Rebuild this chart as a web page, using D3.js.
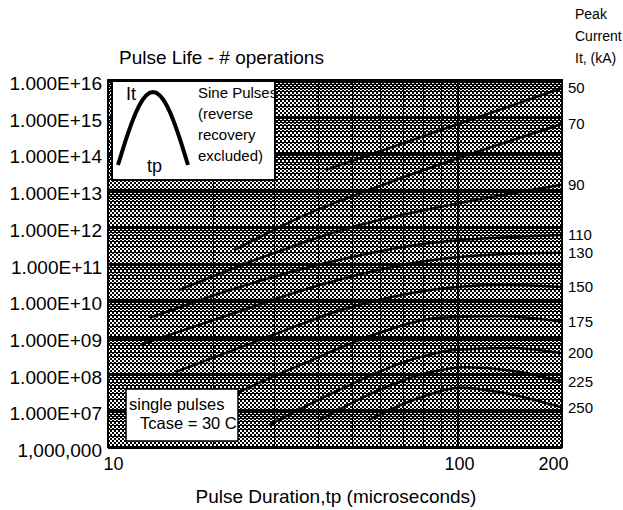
<!DOCTYPE html>
<html>
<head>
<meta charset="utf-8">
<script src="https://cdn.jsdelivr.net/npm/d3@7"></script>
<style>
  body { margin: 0; background: #fff; }
  svg { display: block; font-family: "Liberation Sans", Arial, sans-serif; }
</style>
</head>
<body>
<svg width="623" height="510"></svg>
<script>
// x: pulse duration (microseconds), y: number of operations
const tpTicks = [10, 100, 200];
const tpTickShift = [5, 2, -9];
const tpGrid = [20, 30, 40, 50, 60, 70, 80, 90, 100];
const lifeTicks = [1e16, 1e15, 1e14, 1e13, 1e12, 1e11, 1e10, 1e9, 1e8, 1e7, 1e6];
const lifeLabels = ["1.000E+16", "1.000E+15", "1.000E+14", "1.000E+13", "1.000E+12",
  "1.000E+11", "1.000E+10", "1.000E+09", "1.000E+08", "1.000E+07", "1,000,000"];

// peak current (kA) of each curve
const currents = [50, 70, 90, 110, 130, 150, 175, 200, 225, 250];

const tp50 = [42, 200];
const life50 = [3.5e13, 6e15];
const tp70 = [23, 35, 69, 200];
const life70 = [2.3e11, 1.7e12, 2.1e13, 6.3e14];
const tp90 = [16, 25.5, 49, 95, 200];
const life90 = [1.9e10, 1.1e11, 9.3e11, 3.9e12, 1.4e13];
const tp110 = [13.2, 22.4, 43.3, 84, 200];
const life110 = [3.3e9, 1.9e10, 1.1e11, 3.6e11, 6e11];
const tp130 = [12.4, 20.9, 40.5, 78, 133, 200];
const life130 = [6.1e8, 3.3e9, 2.6e10, 1.1e11, 1.8e11, 1.95e11];
const tp150 = [15.6, 27.3, 49, 84, 133, 200];
const life150 = [1.1e8, 8.3e8, 6.2e9, 1.9e10, 2.6e10, 2.3e10];
const tp175 = [21, 35.5, 60, 89, 133, 200];
const life175 = [1.9e7, 1.7e8, 1.3e9, 3.3e9, 3.7e9, 2.6e9];
const tp200 = [29, 46, 73, 98.6, 142, 200];
const life200 = [4e6, 3.6e7, 2.3e8, 4.4e8, 5e8, 3.6e8];
const tp225 = [40.5, 60, 84, 105, 152, 200];
const life225 = [5.5e6, 3.6e7, 1.1e8, 1.5e8, 1.1e8, 5.9e7];
const tp250 = [56, 78, 102, 133, 200];
const life250 = [5.5e6, 2.2e7, 4.1e7, 3.1e7, 1.2e7];

const tps = [tp50, tp70, tp90, tp110, tp130, tp150, tp175, tp200, tp225, tp250];
const lifes = [life50, life70, life90, life110, life130, life150, life175, life200, life225, life250];

let svg = d3.select("svg");
const plot = {left: 108, right: 562, top: 80, bottom: 447};

let x = d3.scaleLog().domain([10, 200]).range([plot.left, plot.right]);
let y = d3.scaleLog().domain([1e6, 1e16]).range([plot.bottom, plot.top]);

// dithered grey like the scanned original
let defs = svg.append("defs");
let pat = defs.append("pattern")
    .attr("id", "dither")
    .attr("patternUnits", "userSpaceOnUse")
    .attr("width", 4)
    .attr("height", 4);
pat.append("rect").attr("width", 4).attr("height", 4).attr("fill", "#fff");
pat.append("rect").attr("width", 2).attr("height", 2).attr("fill", "#000");
pat.append("rect").attr("x", 2).attr("y", 2).attr("width", 2).attr("height", 2).attr("fill", "#000");

svg.append("rect")
    .attr("x", plot.left)
    .attr("y", plot.top)
    .attr("width", plot.right - plot.left)
    .attr("height", plot.bottom - plot.top)
    .attr("fill", "url(#dither)");

// horizontal log grid
let minor = [];
d3.range(6, 16).forEach(k => {
  d3.range(2, 10).forEach(m => minor.push(m * Math.pow(10, k)));
});

let grid = svg.append("g").attr("shape-rendering", "crispEdges");
grid.selectAll(".hminor")
  .data(minor)
  .enter().append("line")
    .attr("x1", plot.left)
    .attr("x2", plot.right)
    .attr("y1", d => Math.round(y(d)) + 0.5)
    .attr("y2", d => Math.round(y(d)) + 0.5)
    .attr("stroke", "#000")
    .attr("stroke-width", 1);

grid.selectAll(".hmajor")
  .data(lifeTicks)
  .enter().append("line")
    .attr("x1", plot.left)
    .attr("x2", plot.right)
    .attr("y1", d => Math.round(y(d)))
    .attr("y2", d => Math.round(y(d)))
    .attr("stroke", "#000")
    .attr("stroke-width", 3);

grid.selectAll(".vgrid")
  .data(tpGrid)
  .enter().append("line")
    .attr("x1", d => Math.round(x(d)) + 0.5)
    .attr("x2", d => Math.round(x(d)) + 0.5)
    .attr("y1", plot.top)
    .attr("y2", plot.bottom)
    .attr("stroke", "#000")
    .attr("stroke-width", d => d === 100 ? 2 : 1.5);

// life curves
let line = d3.line()
    .x(d => x(d[0]))
    .y(d => y(d[1]))
    .curve(d3.curveMonotoneX);

let series = currents.map((c, i) => ({
  current: c,
  points: tps[i].map((t, j) => [t, lifes[i][j]])
}));

svg.append("g")
  .selectAll("path")
  .data(series)
  .enter().append("path")
    .attr("d", d => line(d.points))
    .attr("fill", "none")
    .attr("stroke", "#000")
    .attr("stroke-width", 2.5);

// plot frame
svg.append("rect")
    .attr("x", plot.left)
    .attr("y", plot.top)
    .attr("width", plot.right - plot.left)
    .attr("height", plot.bottom - plot.top)
    .attr("fill", "none")
    .attr("stroke", "#000")
    .attr("stroke-width", 2);

// axes
let yAxis = svg.append("g")
    .attr("transform", `translate(${plot.left},0)`)
    .call(d3.axisLeft(y).tickValues(lifeTicks).tickFormat((d, i) => lifeLabels[i]).tickSize(0).tickPadding(6));
yAxis.select(".domain").remove();
yAxis.selectAll("text")
    .attr("font-family", "Liberation Sans, Arial, sans-serif")
    .attr("font-size", 19)
    .attr("fill", "#000")
    .attr("dy", "0.5em");

let xAxis = svg.append("g")
    .attr("transform", `translate(0,${plot.bottom})`)
    .call(d3.axisBottom(x).tickValues(tpTicks).tickFormat(d3.format("d")).tickSize(0).tickPadding(10));
xAxis.select(".domain").remove();
xAxis.selectAll("text")
    .attr("font-family", "Liberation Sans, Arial, sans-serif")
    .attr("font-size", 18)
    .attr("fill", "#000")
    .attr("dx", (d, i) => tpTickShift[i]);

// current labels at the curve ends
svg.append("g")
  .selectAll("text")
  .data(series)
  .enter().append("text")
    .attr("x", plot.right + 6)
    .attr("y", d => y(d.points[d.points.length - 1][1]))
    .attr("dy", "0.35em")
    .attr("font-size", 15)
    .text(d => d.current);

// titles
svg.append("text")
    .attr("x", 119)
    .attr("y", 64)
    .attr("font-size", 19)
    .text("Pulse Life - # operations");

svg.append("text")
    .attr("x", 336)
    .attr("y", 503)
    .attr("text-anchor", "middle")
    .attr("font-size", 19)
    .text("Pulse Duration,tp (microseconds)");

svg.append("g")
  .selectAll("text")
  .data(["Peak", "Current", "It, (kA)"])
  .enter().append("text")
    .attr("x", 575)
    .attr("y", (d, i) => 19 + i * 22)
    .attr("font-size", 14)
    .text(d => d);

// sine pulse inset
let inset = svg.append("g");
inset.append("rect")
    .attr("x", 112)
    .attr("y", 81)
    .attr("width", 163)
    .attr("height", 99)
    .attr("fill", "#fff")
    .attr("stroke", "#000")
    .attr("stroke-width", 2);

let hump = d3.line()
    .x(t => 118 + t * 70)
    .y(t => 165 - 73 * Math.sin(Math.PI * t));
inset.append("path")
    .attr("d", hump(d3.range(0, 1.0001, 0.05)))
    .attr("fill", "none")
    .attr("stroke", "#000")
    .attr("stroke-width", 4);

inset.append("text").attr("x", 126).attr("y", 100).attr("font-size", 18).text("It");
inset.append("text").attr("x", 147).attr("y", 172).attr("font-size", 18).text("tp");

inset.selectAll(".note")
  .data(["Sine Pulses", "(reverse", "recovery", "excluded)"])
  .enter().append("text")
    .attr("x", 198)
    .attr("y", (d, i) => 98 + i * 21)
    .attr("font-size", 15)
    .text(d => d);

// single pulse box
let box = svg.append("g");
box.append("rect")
    .attr("x", 126)
    .attr("y", 389)
    .attr("width", 112)
    .attr("height", 52)
    .attr("fill", "#fff")
    .attr("stroke", "#000")
    .attr("stroke-width", 1.5);
box.append("text").attr("x", 129).attr("y", 410).attr("font-size", 16.5).text("single pulses");
box.append("text").attr("x", 140).attr("y", 429).attr("font-size", 16.5).text("Tcase = 30 C");
</script>
</body>
</html>
